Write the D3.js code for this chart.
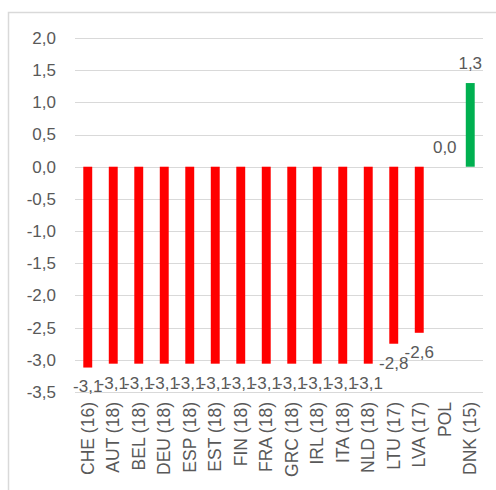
<!DOCTYPE html>
<html>
<head>
<meta charset="utf-8">
<script src="https://cdn.jsdelivr.net/npm/d3@7"></script>
<style>
  body { margin: 0; background: #fff; }
  svg { display: block; font-family: "Liberation Sans", Arial, sans-serif; }
</style>
</head>
<body>
<svg width="496" height="490"></svg>
<script>
// chart data
const countries = ["CHE (16)", "AUT (18)", "BEL (18)", "DEU (18)", "ESP (18)", "EST (18)",
    "FIN (18)", "FRA (18)", "GRC (18)", "IRL (18)", "ITA (18)", "NLD (18)",
    "LTU (17)", "LVA (17)", "POL", "DNK (15)"];
const values = [-3.12, -3.06, -3.06, -3.06, -3.06, -3.06, -3.06, -3.06, -3.06, -3.06, -3.06, -3.06,
    -2.75, -2.58, 0.0, 1.3];
const yTicks = [2.0, 1.5, 1.0, 0.5, 0.0, -0.5, -1.0, -1.5, -2.0, -2.5, -3.0, -3.5];

const svg = d3.select("svg");
const fmt = v => d3.format(".1f")(v).replace(".", ",").replace("−", "-");

// outer chart frame (runs off the right and bottom edges)
svg.append("rect")
    .attr("x", 8.5).attr("y", 12.5)
    .attr("width", 520).attr("height", 520)
    .attr("fill", "none").attr("stroke", "#d9d9d9").attr("stroke-width", 1.5);

const x = d3.scaleBand().domain(countries).range([75, 483]).paddingInner(0.65).paddingOuter(0.325);
const y = d3.scaleLinear().domain([-3.5, 2.0]).range([392, 38]);

// gridlines
svg.append("g").selectAll("line")
    .data(yTicks).join("line")
    .attr("x1", 75).attr("x2", 483)
    .attr("y1", d => Math.round(y(d)) + 0.5).attr("y2", d => Math.round(y(d)) + 0.5)
    .attr("stroke", "#d9d9d9").attr("stroke-width", 1);

// y axis labels
svg.append("g").selectAll("text")
    .data(yTicks).join("text")
    .attr("x", 56).attr("y", d => y(d))
    .attr("dy", "0.35em")
    .attr("text-anchor", "end")
    .attr("font-size", 17).attr("fill", "#595959")
    .text(fmt);

// bars
svg.append("g").selectAll("rect")
    .data(values).join("rect")
    .attr("x", (d, i) => x(countries[i]))
    .attr("width", x.bandwidth())
    .attr("y", d => y(Math.max(0, d)))
    .attr("height", d => Math.abs(y(d) - y(0)))
    .attr("fill", d => d < 0 ? "#ff0000" : "#00b050");

// value labels (they overlap each other in the original too)
svg.append("g").selectAll("text")
    .data(values).join("text")
    .attr("x", (d, i) => x(countries[i]) + x.bandwidth() / 2)
    .attr("y", d => y(d) + (d < 0 ? 19 : -20))
    .attr("dy", "0.35em")
    .attr("text-anchor", "middle")
    .attr("font-size", 17).attr("fill", "#595959")
    .text(fmt);

// category labels, rotated
svg.append("g").selectAll("text")
    .data(countries).join("text")
    .attr("transform", d => `translate(${x(d) + x.bandwidth() / 2},402) rotate(-90)`)
    .attr("dy", "0.35em")
    .attr("text-anchor", "end")
    .attr("font-size", 17.5).attr("fill", "#595959")
    .text(d => d);
</script>
</body>
</html>
